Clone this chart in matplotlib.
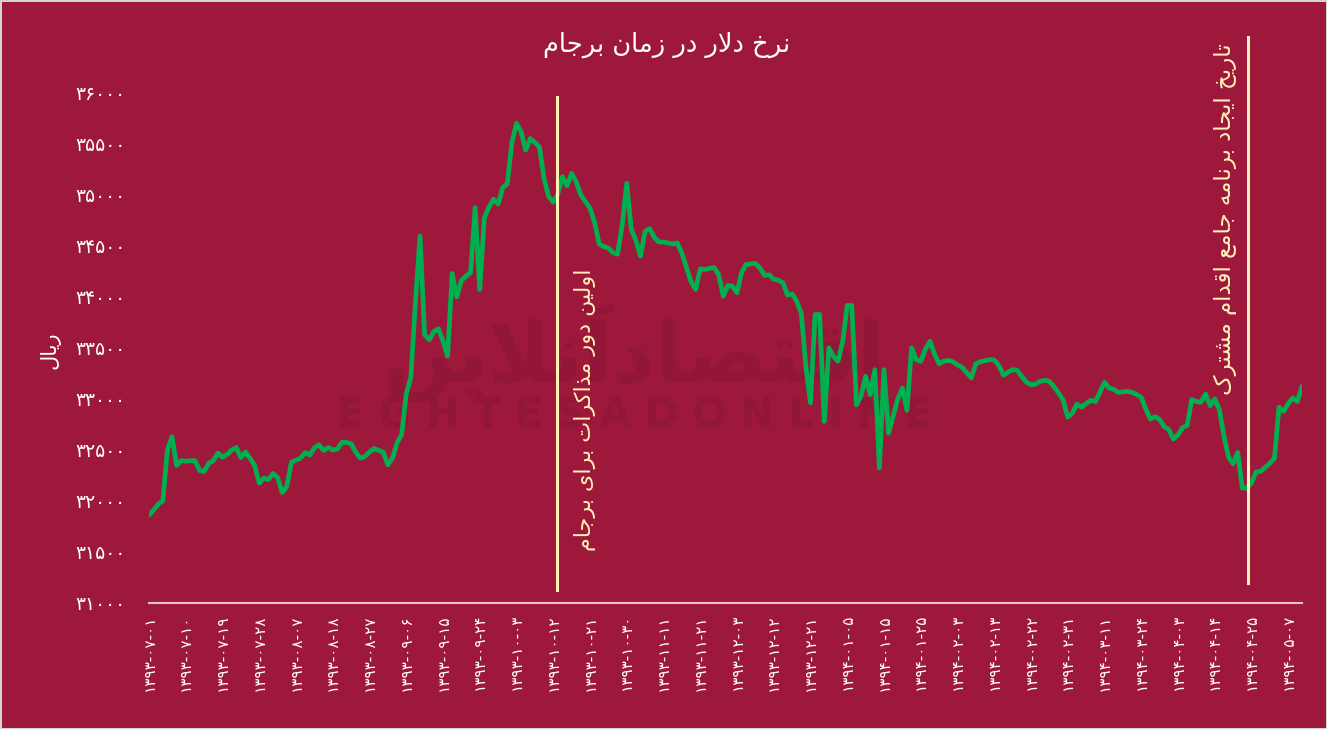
import matplotlib
matplotlib.use("Agg")
import matplotlib.pyplot as plt

plt.rcParams["font.family"] = ["DejaVu Sans"]

BG = '#9e183b'
GREEN = '#00b050'
CREAM = '#fff1b8'

# nerkh-e dolar (rial), one value per trading day
prices = [
    31860, 31910, 31970, 32000, 32500, 32630, 32350, 32395, 32390, 32395,
    32395, 32300, 32290, 32370, 32395, 32470, 32430, 32455, 32500, 32525,
    32425, 32480, 32420, 32345, 32175, 32225, 32210, 32270, 32230, 32083,
    32142, 32380, 32400, 32420, 32475, 32450, 32520, 32552, 32495, 32525,
    32500, 32510, 32575, 32575, 32560, 32480, 32420, 32437, 32480, 32515,
    32497, 32478, 32355, 32420, 32570, 32650, 33050, 33210, 33950, 34598,
    33630, 33580, 33660, 33688, 33570, 33420, 34231, 34000, 34160, 34205,
    34238, 34876, 34074, 34778, 34880, 34960, 34910, 35072, 35110, 35515,
    35704, 35620, 35440, 35553, 35515, 35470, 35160, 34985, 34930, 35010,
    35180, 35090, 35213, 35130, 35000, 34935, 34870, 34730, 34520, 34495,
    34480, 34435, 34420, 34700, 35115, 34660, 34555, 34401, 34645, 34670,
    34585, 34539, 34539, 34530, 34520, 34530, 34430, 34290, 34150, 34074,
    34277, 34270, 34280, 34290, 34220, 34008, 34113, 34105, 34041, 34240,
    34319, 34325, 34330, 34285, 34211, 34218, 34175, 34165, 34140, 34020,
    34030, 33959, 33840, 33315, 32961, 33828, 33828, 32780, 33501, 33420,
    33370, 33560, 33917, 33917, 32944, 33030, 33223, 33043, 33288, 32323,
    33288, 32666, 32835, 33000, 33108, 32889, 33501, 33386, 33370, 33485,
    33566, 33440, 33345, 33370, 33379, 33365, 33335, 33310, 33260, 33206,
    33345, 33365, 33376, 33386, 33382, 33330, 33233, 33262, 33288, 33282,
    33220, 33165, 33140, 33145, 33173, 33183, 33175, 33120, 33060, 32990,
    32823, 32860, 32950, 32920, 32955, 32987, 32975, 33065, 33164, 33108,
    33095, 33065, 33070, 33075, 33065, 33045, 33017, 32900, 32803, 32826,
    32800, 32730, 32699, 32607, 32650, 32720, 32740, 32995, 32975, 32968,
    33050, 32935, 33000, 32900, 32640, 32430, 32365, 32476, 32126, 32126,
    32175, 32285, 32290, 32330, 32370, 32420, 32920, 32880, 32954, 33010,
    32977, 33124,
]

tick_step = 8
date_labels = [
    '۱۳۹۳-۰۷-۰۱', '۱۳۹۳-۰۷-۱۰', '۱۳۹۳-۰۷-۱۹', '۱۳۹۳-۰۷-۲۸', '۱۳۹۳-۰۸-۰۷',
    '۱۳۹۳-۰۸-۱۸', '۱۳۹۳-۰۸-۲۷', '۱۳۹۳-۰۹-۰۶', '۱۳۹۳-۰۹-۱۵', '۱۳۹۳-۰۹-۲۴',
    '۱۳۹۳-۱۰-۰۳', '۱۳۹۳-۱۰-۱۲', '۱۳۹۳-۱۰-۲۱', '۱۳۹۳-۱۰-۳۰', '۱۳۹۳-۱۱-۱۱',
    '۱۳۹۳-۱۱-۲۱', '۱۳۹۳-۱۲-۰۳', '۱۳۹۳-۱۲-۱۲', '۱۳۹۳-۱۲-۲۱', '۱۳۹۴-۰۱-۰۵',
    '۱۳۹۴-۰۱-۱۵', '۱۳۹۴-۰۱-۲۵', '۱۳۹۴-۰۲-۰۳', '۱۳۹۴-۰۲-۱۳', '۱۳۹۴-۰۲-۲۲',
    '۱۳۹۴-۰۲-۳۱', '۱۳۹۴-۰۳-۱۱', '۱۳۹۴-۰۳-۲۴', '۱۳۹۴-۰۴-۰۳', '۱۳۹۴-۰۴-۱۴',
    '۱۳۹۴-۰۴-۲۵', '۱۳۹۴-۰۵-۰۷',
]
y_ticks = [31000, 31500, 32000, 32500, 33000, 33500, 34000, 34500, 35000, 35500, 36000]

title = 'نرخ دلار در زمان برجام'
y_title = 'ریال'
events = [88.8, 239.2]
event_texts = ['اولین دور مذاکرات برای برجام', 'تاریخ ایجاد برنامه جامع اقدام مشترک']

# --- minimal persian shaping (matplotlib has no arabic text layout) ---
FORMS = {
    'ا': ('\ufe8d', '\ufe8e', None, None), 'آ': ('\ufe81', '\ufe82', None, None),
    'ب': ('\ufe8f', '\ufe90', '\ufe91', '\ufe92'), 'پ': ('\ufb56', '\ufb57', '\ufb58', '\ufb59'),
    'ت': ('\ufe95', '\ufe96', '\ufe97', '\ufe98'), 'ث': ('\ufe99', '\ufe9a', '\ufe9b', '\ufe9c'),
    'ج': ('\ufe9d', '\ufe9e', '\ufe9f', '\ufea0'), 'چ': ('\ufb7a', '\ufb7b', '\ufb7c', '\ufb7d'),
    'ح': ('\ufea1', '\ufea2', '\ufea3', '\ufea4'), 'خ': ('\ufea5', '\ufea6', '\ufea7', '\ufea8'),
    'د': ('\ufea9', '\ufeaa', None, None), 'ذ': ('\ufeab', '\ufeac', None, None),
    'ر': ('\ufead', '\ufeae', None, None), 'ز': ('\ufeaf', '\ufeb0', None, None),
    'ژ': ('\ufb8a', '\ufb8b', None, None),
    'س': ('\ufeb1', '\ufeb2', '\ufeb3', '\ufeb4'), 'ش': ('\ufeb5', '\ufeb6', '\ufeb7', '\ufeb8'),
    'ص': ('\ufeb9', '\ufeba', '\ufebb', '\ufebc'), 'ض': ('\ufebd', '\ufebe', '\ufebf', '\ufec0'),
    'ط': ('\ufec1', '\ufec2', '\ufec3', '\ufec4'), 'ظ': ('\ufec5', '\ufec6', '\ufec7', '\ufec8'),
    'ع': ('\ufec9', '\ufeca', '\ufecb', '\ufecc'), 'غ': ('\ufecd', '\ufece', '\ufecf', '\ufed0'),
    'ف': ('\ufed1', '\ufed2', '\ufed3', '\ufed4'), 'ق': ('\ufed5', '\ufed6', '\ufed7', '\ufed8'),
    'ک': ('\ufb8e', '\ufb8f', '\ufb90', '\ufb91'), 'گ': ('\ufb92', '\ufb93', '\ufb94', '\ufb95'),
    'ل': ('\ufedd', '\ufede', '\ufedf', '\ufee0'), 'م': ('\ufee1', '\ufee2', '\ufee3', '\ufee4'),
    'ن': ('\ufee5', '\ufee6', '\ufee7', '\ufee8'), 'و': ('\ufeed', '\ufeee', None, None),
    'ه': ('\ufee9', '\ufeea', '\ufeeb', '\ufeec'), 'ی': ('\ufbfc', '\ufbfd', '\ufbfe', '\ufbff'),
}
LAM_ALEF = {'ا': ('\ufefb', '\ufefc'), 'آ': ('\ufef5', '\ufef6')}


def fa(text):
    out = []
    i = 0
    n = len(text)
    while i < n:
        c = text[i]
        if c not in FORMS:
            out.append(c)
            i += 1
            continue
        prev = text[i - 1] if i > 0 else None
        link_prev = prev in FORMS and FORMS[prev][2] is not None
        if c == 'ل' and i + 1 < n and text[i + 1] in LAM_ALEF:
            iso, fin = LAM_ALEF[text[i + 1]]
            out.append(fin if link_prev else iso)
            i += 2
            continue
        nxt = text[i + 1] if i + 1 < n else None
        link_next = FORMS[c][2] is not None and nxt in FORMS
        iso, fin, ini, med = FORMS[c]
        if link_prev and link_next:
            out.append(med)
        elif link_prev:
            out.append(fin)
        elif link_next:
            out.append(ini)
        else:
            out.append(iso)
        i += 1
    return ''.join(reversed(out))


def fa_digits(v):
    return str(v).translate(str.maketrans('0123456789', '۰۱۲۳۴۵۶۷۸۹'))


W, H = 1327, 729
fig = plt.figure(figsize=(W / 100, H / 100), dpi=100, facecolor=BG)
fig.patch.set_edgecolor('#d4d4d4')
fig.patch.set_linewidth(2)
ax = fig.add_axes([149 / W, 1 - 603 / H, (1302 - 149) / W, (603 - 93) / H])
ax.set_zorder(2)
ax.patch.set_alpha(0)

# watermark (behind the axes)
fig.text(0.478, 1 - 352 / H, fa('اقتصادآنلاین'), fontsize=60, fontweight='bold',
         color='#911637', ha='center', va='center', zorder=0)
fig.text(0.478, 1 - 416 / H, ' '.join('EGHTESADONLINE'), fontsize=29, fontweight='bold',
         color='#911637', ha='center', va='center', zorder=0)

x = list(range(len(prices)))
ax.plot(x, prices, color=GREEN, lw=3.4, solid_joinstyle='round', solid_capstyle='round', zorder=3)

ax.axvline(events[0], ymin=0.025, ymax=0.992, color=CREAM, lw=2.2, clip_on=False, zorder=4)
ax.axvline(events[1], ymin=0.039, ymax=1.11, color=CREAM, lw=2.2, clip_on=False, zorder=4)
ax.text(events[0] + 6.2, 32895, fa(event_texts[0]), rotation=90, color=CREAM, fontsize=16,
        ha='center', va='center', zorder=5)
ax.text(events[1] - 5, 34760, fa(event_texts[1]), rotation=90, color=CREAM, fontsize=16.5,
        ha='center', va='center', clip_on=False, zorder=5)

ax.set_xlim(0, len(prices) - 1)
ax.set_ylim(y_ticks[0], y_ticks[-1])
ax.set_yticks(y_ticks)
ax.set_yticklabels([fa_digits(v) for v in y_ticks], color='white', fontsize=13.5)
ax.set_xticks(range(0, tick_step * len(date_labels), tick_step))
ax.set_xticklabels(date_labels, rotation=90, color='white', fontsize=11)
ax.tick_params(axis='both', length=0)
ax.tick_params(axis='y', pad=17)
ax.tick_params(axis='x', pad=8)

for s in ['top', 'right', 'left']:
    ax.spines[s].set_visible(False)
ax.spines['bottom'].set_color('#e6c3cc')
ax.spines['bottom'].set_linewidth(1.5)

fig.text(667 / W, 1 - 45 / H, fa(title), color='white', fontsize=18.5, ha='center', va='center')
fig.text(50 / W, 1 - 350 / H, fa(y_title), color='white', fontsize=15, rotation=90,
         ha='center', va='center')

fig.savefig('out.png', dpi=100, facecolor=BG, edgecolor=fig.patch.get_edgecolor())
